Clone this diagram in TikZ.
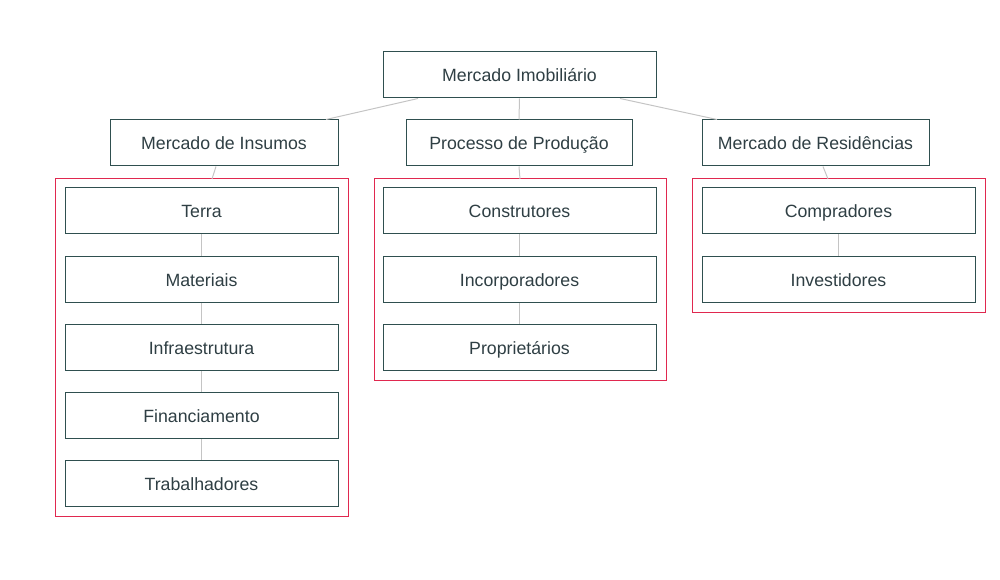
\documentclass[tikz,border=0pt]{standalone}
\usepackage{fontspec}
\setmainfont{Liberation Sans}
\usetikzlibrary{calc}
\definecolor{boxc}{HTML}{2F4F4F}
\definecolor{txtc}{HTML}{2F3F44}
\definecolor{grpc}{HTML}{E0284F}
\definecolor{linec}{HTML}{C4C4C4}
\tikzset{
  box/.style={draw=boxc, line width=0.75pt, fill=white, inner sep=0pt, text=txtc,
    font=\fontsize{13.3pt}{16pt}\selectfont, minimum height=34.5pt,
    text height=10.5pt, text depth=0pt},
  wide/.style={box, minimum width=204.75pt},
  top/.style={box, minimum width=170.5pt},
  grp/.style={draw=grpc, line width=0.75pt},
  conn/.style={draw=linec, line width=0.75pt},
}
\begin{document}
\begin{tikzpicture}[x=0.75pt,y=-0.75pt]
\useasboundingbox (0,0) rectangle (1000,580);
% groups
\draw[grp] (55,179) rectangle (348,517);
\draw[grp] (374,179) rectangle (666,381);
\draw[grp] (692,179) rectangle (985,313);
\coordinate (g1) at (201.5,179);
\coordinate (g2) at (520,179);
\coordinate (g3) at (838.5,179);
% nodes
\node[wide] (root) at (519.5,75) {Mercado Imobiliário};
\node[top, minimum width=171pt] (ins) at (224,143) {Mercado de Insumos};
\node[top, minimum width=169.5pt] (prod) at (519,143) {Processo de Produção};
\node[top, minimum width=170.25pt] (res) at (815.5,143) {Mercado de Residências};
\node[wide] (terra) at (201.5,211) {Terra};
\node[wide] (mat) at (201.5,279.5) {Materiais};
\node[wide] (infra) at (201.5,347.5) {Infraestrutura};
\node[wide] (fin) at (201.5,416) {Financiamento};
\node[wide] (trab) at (201.5,484) {Trabalhadores};
\node[wide] (cons) at (519.5,211) {Construtores};
\node[wide] (inc) at (519.5,279.5) {Incorporadores};
\node[wide] (prop) at (519.5,347.5) {Proprietários};
\node[wide] (comp) at (838.5,211) {Compradores};
\node[wide] (inv) at (838.5,279.5) {Investidores};
% connectors
\draw[conn] ($(root.south)+(-101.5,0)$) -- ($(ins.north)+(102,0)$);
\draw[conn] (root.south) -- (prod.north);
\draw[conn] ($(root.south)+(100.5,0)$) -- ($(res.north)+(-98.5,0)$);
\draw[conn] ($(ins.south)+(-8,0)$) -- ($(g1)+(10.5,0)$);
\draw[conn] (prod.south) -- (g2);
\draw[conn] ($(res.south)+(7.5,0)$) -- ($(g3)+(-10.5,0)$);
\draw[conn] (terra) -- (mat);
\draw[conn] (mat) -- (infra);
\draw[conn] (infra) -- (fin);
\draw[conn] (fin) -- (trab);
\draw[conn] (cons) -- (inc);
\draw[conn] (inc) -- (prop);
\draw[conn] (comp) -- (inv);
\end{tikzpicture}
\end{document}
